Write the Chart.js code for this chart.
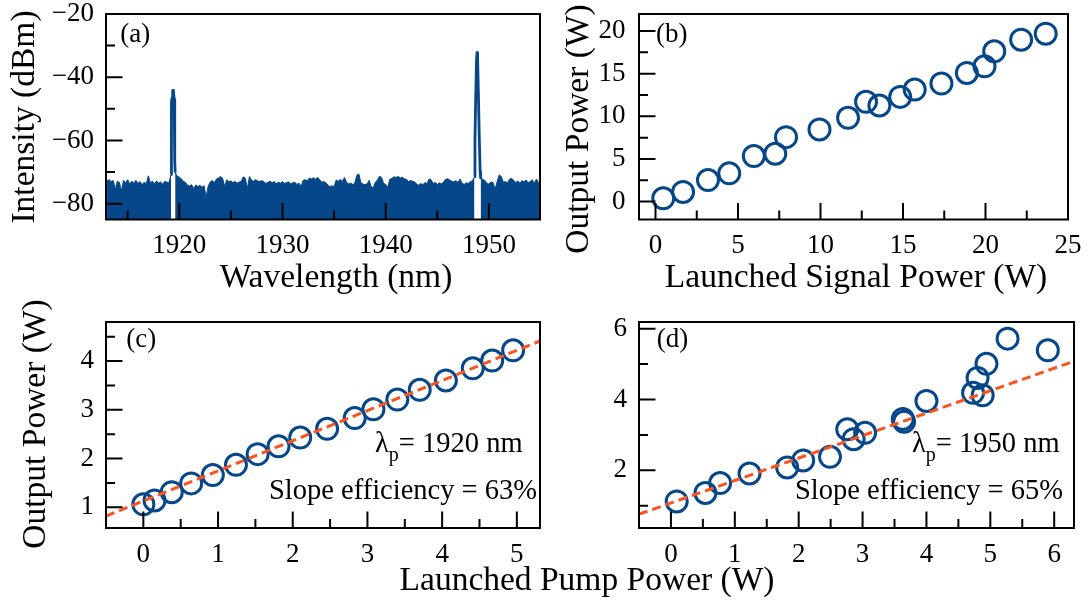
<!DOCTYPE html>
<html>
<head>
<meta charset="utf-8">
<script src="https://cdn.jsdelivr.net/npm/chart.js@4.4.1/dist/chart.umd.min.js"></script>
<style>
  html, body { margin: 0; padding: 0; background: #fff; }
  #fig { position: relative; width: 1090px; height: 601px; }
  #fig canvas { position: absolute; left: 0; top: 0; }
</style>
</head>
<body>
<div id="fig">
  <canvas id="chartA" width="1090" height="601"></canvas>
  <canvas id="chartB" width="1090" height="601"></canvas>
  <canvas id="chartC" width="1090" height="601"></canvas>
  <canvas id="chartD" width="1090" height="601"></canvas>
</div>
<script>
// ---- (a) optical spectrum ----
const specStart = 1913.0;   // nm
const specStep = 0.2;       // nm
const specDbm = [
  -72.8, -72.4, -73.0, -72.7, -75.4,   // 1913
  -72.9, -73.3, -76.0, -72.6, -73.4,   // 1914
  -72.4, -73.8, -72.9, -73.5, -72.6,   // 1915
  -73.6, -73.0, -74.0, -73.2, -73.7,   // 1916
  -71.2, -73.4, -72.9, -73.8, -72.8,   // 1917
  -73.5, -73.1, -73.9, -72.9, -73.2,   // 1918
  -73.4, -70.8, null, -70.2, -71.3,    // 1919
  -71.6, -72.1, -72.9, -73.3, -74.2,   // 1920
  -74.4, -74.0, -75.3, -74.1, -74.6,   // 1921
  -74.2, -74.8, -74.3, -77.9, -74.5,   // 1922
  -73.1, -72.7, -73.4, -72.2, -71.9,   // 1923
  -71.4, -72.0, -74.6, -72.4, -73.1,   // 1924
  -72.8, -73.3, -73.0, -73.5, -73.2,   // 1925
  -72.9, -71.5, -72.0, -75.2, -71.4,   // 1926
  -72.6, -72.9, -72.4, -72.8, -73.0,   // 1927
  -72.7, -73.1, -73.6, -73.2, -72.9,   // 1928
  -73.4, -73.0, -73.7, -73.2, -73.5,   // 1929
  -73.0, -73.6, -73.3, -73.1, -73.8,   // 1930
  -73.4, -73.2, -73.9, -73.5, -74.6,   // 1931
  -72.6, -72.4, -72.8, -71.9, -72.2,   // 1932
  -71.8, -72.3, -71.6, -72.4, -73.2,   // 1933
  -73.0, -73.4, -74.0, -74.7, -74.3,   // 1934
  -74.6, -72.5, -72.9, -72.3, -73.0,   // 1935
  -71.7, -73.1, -73.8, -73.5, -73.9,   // 1936
  -73.6, -71.0, -70.6, -73.4, -73.8,   // 1937
  -74.0, -73.7, -72.6, -74.7, -74.9,   // 1938
  -73.2, -72.5, -71.3, -71.7, -73.6,   // 1939
  -73.9, -74.8, -72.3, -72.0, -71.5,   // 1940
  -71.7, -71.4, -71.9, -71.6, -72.1,   // 1941
  -72.3, -73.0, -72.7, -72.9, -73.1,   // 1942
  -73.8, -74.2, -73.6, -74.0, -73.3,   // 1943
  -73.7, -72.2, -72.4, -73.6, -73.3,   // 1944
  -73.9, -73.4, -73.7, -73.2, -72.3,   // 1945
  -72.1, -72.5, -72.9, -73.1, -72.7,   // 1946
  -73.3, -72.2, -73.5, -73.9, -73.4,   // 1947
  -73.6, -73.0, -72.8, -71.5, null,    // 1948
  null, -71.8, -72.3, -72.6, -73.6,    // 1949
  -73.8, -73.1, -73.3, -75.4, -73.0,   // 1950
  -70.9, -71.4, -73.2, -73.0, -73.4,   // 1951
  -72.2, -72.0, -72.6, -73.3, -72.8,   // 1952
  -73.5, -72.7, -73.1, -72.5, -73.4,   // 1953
  -73.0, -72.4, -73.6, -72.2, -73.3,   // 1954
  -72.9, -73.0                         // 1955
];
const peak1Nm  = [1919.2, 1919.24, 1919.3, 1919.36, 1919.44, 1919.5, 1919.54, 1919.58, 1919.6];
const peak1Dbm = [-70.8, -48.0, -46.5, -44.2, -44.2, -47.0, -57.0, -66.0, -70.2];
const peak2Nm  = [1948.6, 1948.65, 1948.72, 1948.8, 1948.85, 1948.9, 1948.98, 1949.06, 1949.15, 1949.2];
const peak2Dbm = [-71.5, -60.0, -46.0, -34.5, -32.2, -33.5, -45.0, -58.0, -70.0, -71.8];

// ---- (b) output vs launched signal power ----
const signalW = [0.47, 1.67, 3.18, 4.47, 5.96, 7.26, 7.91, 9.94, 11.67, 12.76, 13.57, 14.83, 15.71, 17.33, 18.87, 19.94, 20.53, 22.16, 23.65];
const outputB = [0.39, 1.13, 2.53, 3.31, 5.34, 5.61, 7.56, 8.46, 9.82, 11.70, 11.27, 12.28, 13.14, 13.84, 15.09, 15.87, 17.62, 18.99, 19.69];

// ---- (c) 1920 nm pump ----
const pumpC   = [0.0, 0.15, 0.38, 0.64, 0.93, 1.24, 1.53, 1.81, 2.10, 2.46, 2.83, 3.08, 3.40, 3.70, 4.05, 4.41, 4.67, 4.95];
const outputC = [1.06, 1.14, 1.31, 1.49, 1.66, 1.87, 2.09, 2.25, 2.43, 2.61, 2.83, 3.01, 3.21, 3.41, 3.60, 3.85, 4.01, 4.22];
const fitCx = [-0.5, 5.31];
const fitCy = [0.82, 4.41];

// ---- (d) 1950 nm pump ----
const pumpD   = [0.09, 0.54, 0.77, 1.23, 1.82, 2.07, 2.49, 2.76, 2.86, 3.04, 3.63, 3.65, 4.00, 4.73, 4.88, 4.80, 4.94, 5.27, 5.90];
const outputD = [1.12, 1.36, 1.64, 1.91, 2.08, 2.28, 2.38, 3.16, 2.88, 3.06, 3.45, 3.37, 3.96, 4.19, 4.12, 4.61, 5.01, 5.72, 5.39];
const fitDx = [-0.5, 6.31];
const fitDy = [0.76, 5.08];

// ---- ticks ----
const aXTicks = [1920, 1930, 1940, 1950], aXMinor = [1915, 1925, 1935, 1945];
const aYTicks = [-20, -40, -60, -80],     aYMinor = [-30, -50, -70];
const bXTicks = [0, 5, 10, 15, 20, 25],   bXMinor = [2.5, 7.5, 12.5, 17.5, 22.5];
const bYTicks = [0, 5, 10, 15, 20],       bYMinor = [2.5, 7.5, 12.5, 17.5];
const cXTicks = [0, 1, 2, 3, 4, 5],       cXMinor = [0.5, 1.5, 2.5, 3.5, 4.5];
const cYTicks = [1, 2, 3, 4],             cYMinor = [1.5, 2.5, 3.5, 4.5];
const dXTicks = [0, 1, 2, 3, 4, 5, 6],    dXMinor = [0.5, 1.5, 2.5, 3.5, 4.5, 5.5];
const dYTicks = [2, 4, 6],                dYMinor = [1, 3, 5];

const W = 1090, H = 601;
const BLUE = '#064789';
const ORANGE = '#f9531f';
const SERIF = '"Liberation Serif", "Times New Roman", serif';
const fmt = v => (v < 0 ? '\u2212' + Math.abs(v) : String(v));

function text(ctx, s, x, y, size, align, rotate) {
  ctx.save();
  ctx.font = size + 'px ' + SERIF;
  ctx.fillStyle = '#000';
  ctx.textAlign = align || 'left';
  ctx.textBaseline = 'alphabetic';
  ctx.translate(x, y);
  if (rotate) ctx.rotate(-Math.PI / 2);
  ctx.fillText(s, 0, 0);
  ctx.restore();
}

// frame, inward ticks, tick labels and free text, placed from the chart's scales
function axesPlugin(cfg) {
  return {
    id: 'axes' + cfg.name,
    afterDatasetsDraw(chart) {
      const {ctx, chartArea: a} = chart;
      const x = chart.scales.x, y = chart.scales.y;
      ctx.save();
      ctx.strokeStyle = '#000';
      ctx.lineWidth = 2;
      ctx.beginPath();
      const xt = (v, len) => { const p = x.getPixelForValue(v); ctx.moveTo(p, a.bottom); ctx.lineTo(p, a.bottom - len); };
      const yt = (v, len) => { const p = y.getPixelForValue(v); ctx.moveTo(a.left, p); ctx.lineTo(a.left + len, p); };
      cfg.xTicks.forEach(v => xt(v, 16.5));
      cfg.xMinor.forEach(v => xt(v, 9));
      cfg.yTicks.forEach(v => yt(v, 16.5));
      cfg.yMinor.forEach(v => yt(v, 9));
      ctx.stroke();
      ctx.strokeRect(a.left, a.top, a.right - a.left, a.bottom - a.top);

      ctx.font = '27px ' + SERIF;
      ctx.fillStyle = '#000';
      ctx.textAlign = 'center';
      ctx.textBaseline = 'alphabetic';
      cfg.xTicks.forEach(v => ctx.fillText(fmt(v), x.getPixelForValue(v), cfg.xLabelY));
      ctx.textAlign = 'right';
      ctx.textBaseline = 'middle';
      cfg.yTicks.forEach(v => ctx.fillText(fmt(v), a.left - cfg.yGap, y.getPixelForValue(v)));
      ctx.restore();

      (cfg.texts || []).forEach(t => text(ctx, t.s, t.x, t.y, t.size, t.align, t.rot));
      if (cfg.lambda) {
        const L = cfg.lambda;
        ctx.save();
        ctx.fillStyle = '#000';
        ctx.textBaseline = 'alphabetic';
        ctx.font = '28.5px ' + SERIF;
        ctx.fillText('\u03bb', L.x, L.y);
        const w1 = ctx.measureText('\u03bb').width;
        ctx.font = '20px ' + SERIF;
        ctx.fillText('p', L.x + w1, L.y + 9);
        const w2 = ctx.measureText('p').width;
        ctx.font = '28.5px ' + SERIF;
        ctx.fillText(L.s, L.x + w1 + w2, L.y);
        ctx.restore();
      }
    }
  };
}

function makePanel(id, area, xr, yr, datasets, cfg) {
  return new Chart(document.getElementById(id), {
    type: 'scatter',
    data: { datasets: datasets },
    options: {
      responsive: false,
      animation: false,
      devicePixelRatio: 1,
      events: [],
      layout: {
        autoPadding: false,
        padding: { left: area.l, top: area.t, right: W - area.r, bottom: H - area.b }
      },
      scales: {
        x: {
          type: 'linear', min: xr[0], max: xr[1],
          grid: { display: false }, border: { display: false }, ticks: { display: false },
          afterFit: s => { s.height = 0; }
        },
        y: {
          type: 'linear', min: yr[0], max: yr[1],
          grid: { display: false }, border: { display: false }, ticks: { display: false },
          afterFit: s => { s.width = 0; }
        }
      },
      plugins: { legend: { display: false }, tooltip: { enabled: false } }
    },
    plugins: [axesPlugin(cfg)]
  });
}

const pts = (xs, ys) => xs.map((v, i) => ({ x: v, y: ys[i] }));
const circles = (xs, ys) => ({
  type: 'scatter',
  data: pts(xs, ys),
  pointStyle: 'circle',
  pointRadius: 10.5,
  pointBorderWidth: 3,
  pointBorderColor: BLUE,
  pointBackgroundColor: 'rgba(0,0,0,0)',
  clip: false
});
const fitLine = (xs, ys) => ({
  type: 'line',
  data: pts(xs, ys),
  borderColor: ORANGE,
  borderWidth: 3,
  borderDash: [9, 5],
  pointRadius: 0,
  fill: false
});
const peakLine = (xs, ys) => ({
  type: 'line',
  data: pts(xs, ys),
  borderColor: BLUE,
  borderWidth: 2.8,
  borderJoinStyle: 'round',
  pointRadius: 0,
  fill: false
});

// (a)
const specPts = specDbm.map((v, i) => ({ x: specStart + i * specStep, y: v }));
makePanel('chartA', { l: 106, t: 14, r: 540, b: 219.5 }, [1912.9, 1954.95], [-85, -20], [
  peakLine(peak1Nm, peak1Dbm),
  peakLine(peak2Nm, peak2Dbm),
  {
    type: 'line',
    data: specPts,
    borderColor: BLUE,
    backgroundColor: BLUE,
    borderWidth: 1,
    pointRadius: 0,
    spanGaps: false,
    fill: 'start'
  }
], {
  name: 'A', xTicks: aXTicks, xMinor: aXMinor, yTicks: aYTicks, yMinor: aYMinor,
  xLabelY: 253.3, yGap: 12,
  texts: [
    { s: 'Intensity (dBm)', x: 34.2, y: 117, size: 33.5, align: 'center', rot: true },
    { s: 'Wavelength (nm)', x: 336, y: 286.7, size: 33.5, align: 'center' },
    { s: '(a)', x: 120.3, y: 41.5, size: 27 }
  ]
});

// (b)
makePanel('chartB', { l: 639, t: 14, r: 1068, b: 219.5 }, [-1, 25], [-2.1, 22], [
  circles(signalW, outputB)
], {
  name: 'B', xTicks: bXTicks, xMinor: bXMinor, yTicks: bYTicks, yMinor: bYMinor,
  xLabelY: 253.3, yGap: 13.5,
  texts: [
    { s: 'Output Power (W)', x: 588, y: 129, size: 33.5, align: 'center', rot: true },
    { s: 'Launched Signal Power (W)', x: 856, y: 287, size: 33.5, align: 'center' },
    { s: '(b)', x: 656, y: 41.5, size: 27 }
  ]
});

// (c)
makePanel('chartC', { l: 106, t: 322, r: 540, b: 528 }, [-0.5, 5.31], [0.575, 4.8], [
  fitLine(fitCx, fitCy),
  circles(pumpC, outputC)
], {
  name: 'C', xTicks: cXTicks, xMinor: cXMinor, yTicks: cYTicks, yMinor: cYMinor,
  xLabelY: 561.7, yGap: 12,
  texts: [
    { s: 'Output Power (W)', x: 44.8, y: 424, size: 33.5, align: 'center', rot: true },
    { s: 'Launched Pump Power (W)', x: 587, y: 589.5, size: 33.5, align: 'center' },
    { s: '(c)', x: 126.3, y: 346.5, size: 27 },
    { s: 'Slope efficiency = 63%', x: 269, y: 499.3, size: 28.5 }
  ],
  lambda: { s: '= 1920 nm', x: 375, y: 451.7 }
});

// (d)
makePanel('chartD', { l: 639, t: 322, r: 1074, b: 528 }, [-0.5, 6.31], [0.37, 6.19], [
  fitLine(fitDx, fitDy),
  circles(pumpD, outputD)
], {
  name: 'D', xTicks: dXTicks, xMinor: dXMinor, yTicks: dYTicks, yMinor: dYMinor,
  xLabelY: 561.7, yGap: 12,
  texts: [
    { s: '(d)', x: 656.8, y: 346.5, size: 27 },
    { s: 'Slope efficiency = 65%', x: 795, y: 499.3, size: 28.5 }
  ],
  lambda: { s: '= 1950 nm', x: 912, y: 451.7 }
});
</script>
</body>
</html>
